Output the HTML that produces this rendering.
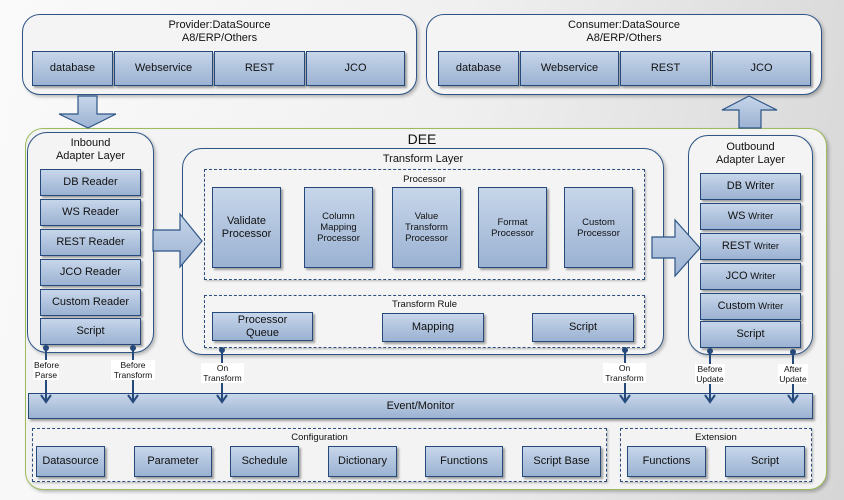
<!DOCTYPE html>
<html><head><meta charset="utf-8"><style>
*{margin:0;padding:0;box-sizing:border-box}
body{width:844px;height:500px;position:relative;overflow:hidden;font-family:"Liberation Sans","DejaVu Sans",sans-serif;color:#111;
background:linear-gradient(100deg,#fafafa 0%,#f0f0f0 50%,#d6d6d6 100%)}
.a{position:absolute}
.rr{position:absolute;border:1.3px solid #2e5586;border-radius:20px;background:#f4f4f4;box-shadow:2px 2px 3px rgba(0,0,0,.25)}
.b{position:absolute;border:1.3px solid #24497a;background:linear-gradient(#c7d6ea,#9bb2d2);box-shadow:2px 2px 2px rgba(0,0,0,.35);display:flex;align-items:center;justify-content:center;text-align:center;font-size:11px;line-height:13px}
.d{position:absolute;border:1.3px dashed #2e4f7e;box-shadow:1px 1px 2px rgba(0,0,0,.25)}
.t{position:absolute;text-align:center;font-size:11px;line-height:13px}
.s{font-size:9.5px;line-height:11px}
.lb{position:absolute;background:#fff;font-size:8.5px;line-height:10px;text-align:center;padding:0 1px}
</style></head><body>

<!-- Provider -->
<div class="rr" style="left:22px;top:14px;width:395px;height:81px;border-radius:18px"></div>
<div class="t" style="left:22px;top:19px;width:395px">Provider:DataSource<br>A8/ERP/Others</div>
<div class="b" style="left:32px;top:51px;width:81px;height:35px">database</div>
<div class="b" style="left:114px;top:51px;width:99px;height:35px">Webservice</div>
<div class="b" style="left:214px;top:51px;width:91px;height:35px">REST</div>
<div class="b" style="left:306px;top:51px;width:99px;height:35px">JCO</div>

<!-- Consumer -->
<div class="rr" style="left:426px;top:14px;width:396px;height:81px;border-radius:18px"></div>
<div class="t" style="left:426px;top:19px;width:396px">Consumer:DataSource<br>A8/ERP/Others</div>
<div class="b" style="left:438px;top:51px;width:81px;height:35px">database</div>
<div class="b" style="left:520px;top:51px;width:99px;height:35px">Webservice</div>
<div class="b" style="left:620px;top:51px;width:91px;height:35px">REST</div>
<div class="b" style="left:712px;top:51px;width:99px;height:35px">JCO</div>

<!-- DEE container -->
<div class="a" style="left:25px;top:128px;width:802px;height:362px;border:1.3px solid #9cbb5a;border-radius:18px;background:#f3f3f3;box-shadow:2px 2px 3px rgba(0,0,0,.25)"></div>
<div class="t" style="left:400px;top:131px;width:44px;font-size:14px;line-height:16px">DEE</div>

<!-- Inbound -->
<div class="rr" style="left:27px;top:132px;width:127px;height:221px"></div>
<div class="t" style="left:27px;top:137px;width:127px">Inbound<br>Adapter Layer</div>
<div class="b" style="left:40px;top:169px;width:101px;height:27px">DB Reader</div>
<div class="b" style="left:40px;top:199px;width:101px;height:27px">WS Reader</div>
<div class="b" style="left:40px;top:229px;width:101px;height:27px">REST Reader</div>
<div class="b" style="left:40px;top:259px;width:101px;height:27px">JCO Reader</div>
<div class="b" style="left:40px;top:289px;width:101px;height:27px">Custom Reader</div>
<div class="b" style="left:40px;top:318px;width:101px;height:27px">Script</div>

<!-- Transform Layer -->
<div class="rr" style="left:182px;top:148px;width:482px;height:207px"></div>
<div class="t" style="left:182px;top:153px;width:482px">Transform Layer</div>
<div class="d" style="left:204px;top:169px;width:441px;height:111px"></div>
<div class="t s" style="left:204px;top:174px;width:441px">Processor</div>
<div class="b" style="left:212px;top:187px;width:69px;height:81px">Validate<br>Processor</div>
<div class="b s" style="left:304px;top:187px;width:69px;height:81px">Column<br>Mapping<br>Processor</div>
<div class="b s" style="left:392px;top:187px;width:69px;height:81px">Value<br>Transform<br>Processor</div>
<div class="b s" style="left:478px;top:187px;width:69px;height:81px">Format<br>Processor</div>
<div class="b s" style="left:564px;top:187px;width:69px;height:81px">Custom<br>Processor</div>
<div class="d" style="left:204px;top:295px;width:441px;height:53px"></div>
<div class="t s" style="left:204px;top:299px;width:441px">Transform Rule</div>
<div class="b" style="left:212px;top:312px;width:101px;height:29px">Processor<br>Queue</div>
<div class="b" style="left:382px;top:313px;width:102px;height:29px">Mapping</div>
<div class="b" style="left:532px;top:313px;width:102px;height:29px">Script</div>

<!-- Outbound -->
<div class="rr" style="left:688px;top:135px;width:125px;height:220px"></div>
<div class="t" style="left:688px;top:141px;width:125px">Outbound<br>Adapter Layer</div>
<div class="b" style="left:700px;top:173px;width:101px;height:27px">DB Writer</div>
<div class="b" style="left:700px;top:203px;width:101px;height:27px">WS <span class="s">&nbsp;Writer</span></div>
<div class="b" style="left:700px;top:233px;width:101px;height:27px">REST <span class="s">&nbsp;Writer</span></div>
<div class="b" style="left:700px;top:263px;width:101px;height:27px">JCO <span class="s">&nbsp;Writer</span></div>
<div class="b" style="left:700px;top:293px;width:101px;height:27px">Custom <span class="s">&nbsp;Writer</span></div>
<div class="b" style="left:700px;top:321px;width:101px;height:27px">Script</div>

<!-- big arrows (on top) -->
<svg class="a" style="left:0;top:0" width="844" height="500">
<defs><linearGradient id="g" x1="0" y1="0" x2="0" y2="1"><stop offset="0" stop-color="#c7d6ea"/><stop offset="1" stop-color="#9bb2d2"/></linearGradient></defs>
<g fill="url(#g)" stroke="#2e5586" stroke-width="1.2">
<polygon points="78,96 97,96 97,114 116,114 88,128 59,114 78,114"/>
<polygon points="739,128 761,128 761,110 777,110 749,96 722,110 739,110"/>
<polygon points="153,230 180,230 180,214 202,241 180,267 180,251 153,251"/>
<polygon points="652,237 675,237 675,220 700,248 675,276 675,258 652,258"/>
</g>
</svg>

<!-- Event bar -->
<div class="b" style="left:28px;top:393px;width:785px;height:26px">Event/Monitor</div>

<!-- connectors -->
<svg class="a" style="left:0;top:0" width="844" height="500">
<g stroke="#24497a" stroke-width="2" fill="none">
<line x1="46" y1="348" x2="46" y2="402"/><line x1="133" y1="348" x2="133" y2="402"/>
<line x1="222" y1="350" x2="222" y2="402"/><line x1="625" y1="350" x2="625" y2="402"/>
<line x1="710" y1="350" x2="710" y2="402"/><line x1="793" y1="350" x2="793" y2="402"/>
<polyline points="41,395 46,402 51,395"/><polyline points="128,395 133,402 138,395"/>
<polyline points="217,395 222,402 227,395"/><polyline points="620,395 625,402 630,395"/>
<polyline points="705,395 710,402 715,395"/><polyline points="788,395 793,402 798,395"/>
</g>
<g fill="#24497a"><circle cx="46" cy="348" r="3"/><circle cx="133" cy="348" r="3"/><circle cx="222" cy="350" r="3"/><circle cx="625" cy="350" r="3"/><circle cx="710" cy="351" r="3"/><circle cx="793" cy="352" r="3"/></g>
</svg>
<div class="lb" style="left:33px;top:360px;width:26px">Before<br>Parse</div>
<div class="lb" style="left:111px;top:360px;width:44px">Before<br>Transform</div>
<div class="lb" style="left:201px;top:363px;width:43px">On<br>Transform</div>
<div class="lb" style="left:603px;top:363px;width:43px">On<br>Transform</div>
<div class="lb" style="left:695px;top:364px;width:30px">Before<br>Update</div>
<div class="lb" style="left:778px;top:364px;width:30px">After<br>Update</div>

<!-- Configuration -->
<div class="d" style="left:32px;top:428px;width:575px;height:54px"></div>
<div class="t s" style="left:32px;top:432px;width:575px">Configuration</div>
<div class="b" style="left:36px;top:446px;width:69px;height:31px">Datasource</div>
<div class="b" style="left:134px;top:446px;width:78px;height:31px">Parameter</div>
<div class="b" style="left:230px;top:446px;width:69px;height:31px">Schedule</div>
<div class="b" style="left:328px;top:446px;width:69px;height:31px">Dictionary</div>
<div class="b" style="left:425px;top:446px;width:78px;height:31px">Functions</div>
<div class="b" style="left:522px;top:446px;width:79px;height:31px">Script Base</div>

<!-- Extension -->
<div class="d" style="left:620px;top:428px;width:192px;height:54px"></div>
<div class="t s" style="left:620px;top:432px;width:192px">Extension</div>
<div class="b" style="left:627px;top:446px;width:79px;height:31px">Functions</div>
<div class="b" style="left:725px;top:446px;width:80px;height:31px">Script</div>
</body></html>
